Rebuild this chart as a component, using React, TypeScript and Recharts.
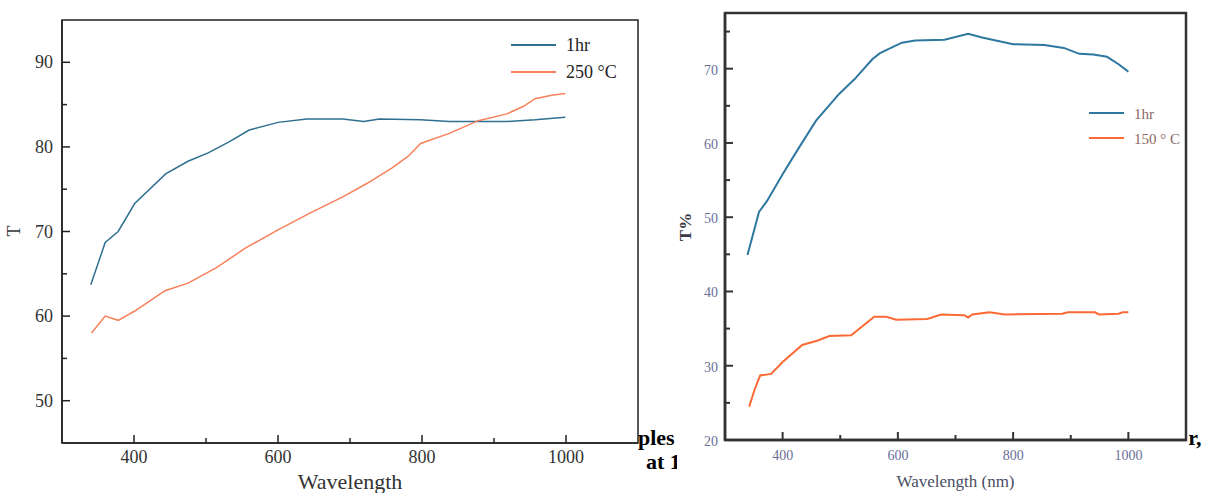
import React from "react";
import { LineChart, Line, XAxis, YAxis, ReferenceArea } from "recharts";

// left panel: annealed 250 °C vs 1hr
const leftWl1hr = [340, 360, 378, 401, 444, 475, 503, 532, 560, 600, 640, 690, 719, 741, 798, 838, 918, 957, 999];
const leftT1hr = [63.7, 68.7, 70.0, 73.3, 76.8, 78.3, 79.3, 80.6, 82.0, 82.9, 83.3, 83.3, 83.0, 83.3, 83.2, 83.0, 83.0, 83.2, 83.5];
const leftWl250 = [341, 360, 378, 401, 443, 475, 514, 554, 600, 645, 690, 724, 758, 781, 798, 838, 878, 918, 941, 957, 980, 999];
const leftT250 = [58.0, 60.0, 59.5, 60.6, 63.0, 63.9, 65.7, 68.0, 70.2, 72.2, 74.1, 75.7, 77.5, 78.9, 80.4, 81.6, 83.1, 83.9, 84.8, 85.7, 86.1, 86.3];

// right panel: 150 ° C vs 1hr
const rightWl1hr = [339, 349, 359, 373, 400, 427, 458, 498, 525, 556, 569, 607, 630, 681, 722, 746, 800, 854, 888, 915, 939, 963, 983, 1000];
const rightT1hr = [44.9, 47.8, 50.7, 52.2, 55.8, 59.2, 63.0, 66.6, 68.6, 71.3, 72.1, 73.5, 73.8, 73.9, 74.7, 74.2, 73.3, 73.2, 72.8, 72.0, 71.9, 71.6, 70.6, 69.6];
const rightWl150 = [342, 351, 361, 380, 400, 434, 461, 481, 519, 559, 580, 597, 651, 675, 715, 722, 729, 759, 786, 885, 895, 942, 949, 983, 990, 1000];
const rightT150 = [24.5, 26.7, 28.7, 28.9, 30.5, 32.8, 33.4, 34.0, 34.1, 36.6, 36.6, 36.2, 36.3, 36.9, 36.8, 36.5, 36.9, 37.2, 36.9, 37.0, 37.2, 37.2, 36.9, 37.0, 37.2, 37.2];

// ticks
const xTicks = [400, 500, 600, 700, 800, 900, 1000];
const xLabels = [400, 600, 800, 1000];
const leftYTicks = [50, 55, 60, 65, 70, 75, 80, 85, 90];
const leftYLabels = [50, 60, 70, 80, 90];
const rightYTicks = [20, 25, 30, 35, 40, 45, 50, 55, 60, 65, 70, 75];
const rightYLabels = [20, 30, 40, 50, 60, 70];

const leftNames = ["1hr", "250 °C"];
const rightNames = ["1hr", "150 ° C"];

const zip = (xs: number[], ys: number[]) => xs.map((wl, i) => ({ wl, t: ys[i] }));

const SERIF = "'Liberation Serif', 'Times New Roman', serif";

function xTick(labels: number[], opts: { size: number; color: string; tickColor: string; dy: number; sw: number }) {
  return (props: any) => {
    const { x, y, payload } = props;
    const major = labels.includes(payload.value);
    return (
      <g>
        <line x1={x} x2={x} y1={y} y2={y - (major ? 8 : 5)} stroke={opts.tickColor} strokeWidth={opts.sw} />
        {major && (
          <text x={x} y={y + opts.dy} textAnchor="middle" fontSize={opts.size} fill={opts.color} fontFamily={SERIF}>
            {payload.value}
          </text>
        )}
      </g>
    );
  };
}

function yTick(labels: number[], opts: { size: number; color: string; tickColor: string; dx: number; sw: number }) {
  return (props: any) => {
    const { x, y, payload } = props;
    const major = labels.includes(payload.value);
    return (
      <g>
        <line x1={x} x2={x + (major ? 8 : 5)} y1={y} y2={y} stroke={opts.tickColor} strokeWidth={opts.sw} />
        {major && (
          <text x={x - opts.dx} y={y + 6} textAnchor="end" fontSize={opts.size} fill={opts.color} fontFamily={SERIF}>
            {payload.value}
          </text>
        )}
      </g>
    );
  };
}

function LegendBox({ names, colors, left, top, gap, lineW, size, textColor }: any) {
  return (
    <svg style={{ position: "absolute", left, top, overflow: "visible" }} width={170} height={gap * 2 + 16}>
      {names.map((n: string, i: number) => (
        <g key={n}>
          <line x1={0} x2={lineW} y1={8 + i * gap} y2={8 + i * gap} stroke={colors[i]} strokeWidth={2} />
          <text x={lineW + 10} y={14 + i * gap} fontSize={size} fill={textColor} fontFamily={SERIF}>
            {n}
          </text>
        </g>
      ))}
    </svg>
  );
}

export default function App() {
  const leftColors = ["#2f6f8f", "#f8805a"];
  const rightColors = ["#2e78a0", "#fb6a35"];

  return (
    <div style={{ position: "absolute", left: 0, top: 0, width: 1210, height: 493, background: "#fff", overflow: "hidden", fontFamily: SERIF }}>
      <div style={{ position: "absolute", left: 0, top: 0 }}>
        <LineChart width={645} height={493} margin={{ top: 20, right: 7, bottom: 0, left: 0 }}>
          <XAxis
            type="number"
            dataKey="wl"
            domain={[300, 1100]}
            ticks={xTicks}
            height={50}
            tickSize={0}
            tickMargin={0}
            tickLine={false}
            axisLine={{ stroke: "#222", strokeWidth: 1.5 }}
            tick={xTick(xLabels, { size: 18, color: "#333", tickColor: "#222", dy: 20, sw: 1.5 })}
            label={(p: any) => (
              <text x={p.viewBox.x + p.viewBox.width / 2} y={489} textAnchor="middle" fontSize={22} fill="#333" fontFamily={SERIF}>
                Wavelength
              </text>
            )}
          />
          <YAxis
            type="number"
            domain={[45, 95]}
            ticks={leftYTicks}
            width={62}
            tickSize={0}
            tickMargin={0}
            tickLine={false}
            axisLine={{ stroke: "#222", strokeWidth: 1.5 }}
            tick={yTick(leftYLabels, { size: 18, color: "#333", tickColor: "#222", dx: 9, sw: 1.5 })}
            label={() => (
              <text x={20} y={231} textAnchor="middle" fontSize={18} fill="#333" fontFamily={SERIF} transform="rotate(-90 20 231)">
                T
              </text>
            )}
          />
          <ReferenceArea x1={300} x2={1100} y1={45} y2={95} fill="none" stroke="#222" strokeWidth={1.5} ifOverflow="visible" />
          <Line data={zip(leftWl1hr, leftT1hr)} dataKey="t" name={leftNames[0]} type="linear" stroke={leftColors[0]} strokeWidth={1.5} dot={false} isAnimationActive={false} />
          <Line data={zip(leftWl250, leftT250)} dataKey="t" name={leftNames[1]} type="linear" stroke={leftColors[1]} strokeWidth={1.5} dot={false} isAnimationActive={false} />
        </LineChart>
        <LegendBox names={leftNames} colors={leftColors} left={511} top={37} gap={27} lineW={45} size={18} textColor="#222" />
      </div>

      {/* caption fragments behind the right panel */}
      <div style={{ position: "absolute", left: 638, top: 425, fontSize: 22, fontWeight: "bold", color: "#000", whiteSpace: "nowrap" }}>
        ples of thin films
      </div>
      <div style={{ position: "absolute", left: 646, top: 449, fontSize: 22, fontWeight: "bold", color: "#000", whiteSpace: "nowrap" }}>
        at 150 °C
      </div>
      <div style={{ position: "absolute", left: 1176, top: 425, fontSize: 22, fontWeight: "bold", color: "#000", whiteSpace: "nowrap" }}>
        hr,
      </div>

      <div style={{ position: "absolute", left: 677, top: 0, width: 512, height: 493, background: "#fff" }}>
        <LineChart width={512} height={493} margin={{ top: 13, right: 3, bottom: 0, left: 0 }}>
          <XAxis
            type="number"
            dataKey="wl"
            domain={[300, 1100]}
            ticks={xTicks}
            height={53}
            tickSize={0}
            tickMargin={0}
            tickLine={false}
            axisLine={{ stroke: "#333", strokeWidth: 2.5 }}
            tick={xTick(xLabels, { size: 14, color: "#6b6f98", tickColor: "#333", dy: 20, sw: 2 })}
            label={(p: any) => (
              <text x={p.viewBox.x + p.viewBox.width / 2} y={487} textAnchor="middle" fontSize={17} fill="#4a4d66" fontFamily={SERIF}>
                Wavelength (nm)
              </text>
            )}
          />
          <YAxis
            type="number"
            domain={[20, 77.5]}
            ticks={rightYTicks}
            width={48}
            tickSize={0}
            tickMargin={0}
            tickLine={false}
            axisLine={{ stroke: "#333", strokeWidth: 2.5 }}
            tick={yTick(rightYLabels, { size: 14, color: "#6b6f98", tickColor: "#333", dx: 7, sw: 2 })}
            label={() => (
              <text x={14} y={227} textAnchor="middle" fontSize={17} fontWeight="bold" fill="#3a3a44" fontFamily={SERIF} transform="rotate(-90 14 227)">
                T%
              </text>
            )}
          />
          <ReferenceArea x1={300} x2={1100} y1={20} y2={77.5} fill="none" stroke="#333" strokeWidth={2.5} ifOverflow="visible" />
          <Line data={zip(rightWl1hr, rightT1hr)} dataKey="t" name={rightNames[0]} type="linear" stroke={rightColors[0]} strokeWidth={2} dot={false} isAnimationActive={false} />
          <Line data={zip(rightWl150, rightT150)} dataKey="t" name={rightNames[1]} type="linear" stroke={rightColors[1]} strokeWidth={2} dot={false} isAnimationActive={false} />
        </LineChart>
        <LegendBox names={rightNames} colors={rightColors} left={412} top={105} gap={25} lineW={35} size={15} textColor="#8a6660" />
      </div>
    </div>
  );
}
